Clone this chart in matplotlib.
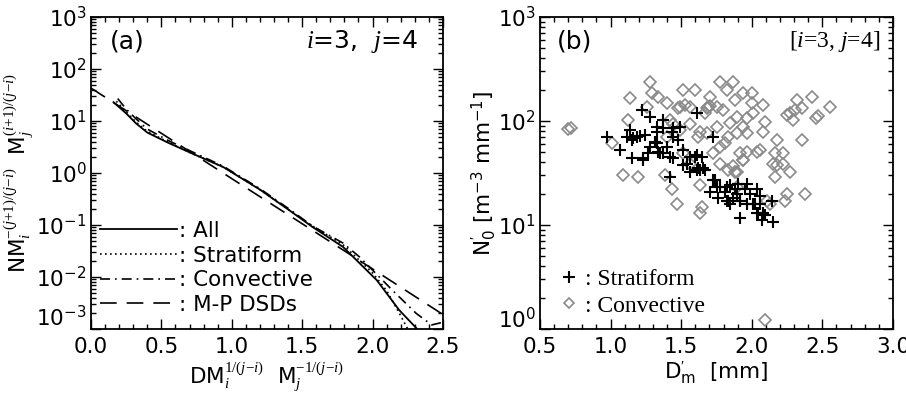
import matplotlib
matplotlib.use("Agg")
import matplotlib.pyplot as plt
import matplotlib.transforms as mtransforms
from matplotlib.lines import Line2D
from matplotlib.ticker import MultipleLocator, LogLocator, NullFormatter

plt.rcParams["font.family"] = ["DejaVu Sans"]
plt.rcParams["mathtext.fontset"] = "custom"
plt.rcParams["mathtext.it"] = "Liberation Serif:italic"
plt.rcParams["mathtext.rm"] = "Liberation Serif"
plt.rcParams["mathtext.sf"] = "DejaVu Sans"
plt.rcParams["axes.unicode_minus"] = False

# ---- panel (a): normalized DSD curves ----
x_all = [0.16, 0.25, 0.32, 0.40, 0.55, 0.70, 0.94, 1.20, 1.40, 1.575, 1.79, 2.03, 2.19, 2.31]
y_all = [23, 14, 9.0, 6.0, 3.8, 2.5, 1.3, 0.48, 0.20, 0.091, 0.038, 0.0087, 0.0023, 0.00105]

x_str = [0.18, 0.25, 0.32, 0.40, 0.55, 0.70, 0.94, 1.20, 1.40, 1.575, 1.79, 2.00, 2.10, 2.20, 2.25]
y_str = [24, 15, 9.5, 6.3, 3.9, 2.5, 1.3, 0.48, 0.20, 0.095, 0.042, 0.012, 0.0055, 0.0018, 0.001]

x_con = [0.19, 0.25, 0.32, 0.40, 0.55, 0.70, 0.94, 1.20, 1.40, 1.575, 1.79, 1.91, 2.14, 2.31, 2.42, 2.50]
y_con = [27, 17, 11, 7.0, 4.2, 2.7, 1.35, 0.50, 0.21, 0.095, 0.045, 0.024, 0.0056, 0.002, 0.0012, 0.00135]

x_mp = [0.0, 0.5, 1.0, 1.5, 2.0, 2.5]
y_mp = [43, 5.8, 0.78, 0.106, 0.0143, 0.0019]

# ---- panel (b): N0' vs Dm' ----
dm_str = [0.975, 1.067, 1.137, 1.116, 1.152, 1.187, 1.244, 1.222, 1.279, 1.371, 1.329, 1.371,
          1.442, 1.491, 1.442, 1.329, 1.399, 1.152, 1.229, 1.265, 1.336, 1.371, 1.421, 1.513,
          1.562, 1.598, 1.647, 1.541, 1.612, 1.633, 1.654, 1.421, 1.612, 1.725, 1.725, 1.754,
          1.824, 1.881, 1.966, 2.037, 1.704, 1.279, 1.159, 1.208, 1.329, 1.435, 1.314, 1.477,
          1.442, 1.229, 1.350, 1.513, 1.562, 1.619, 1.669, 1.612, 1.739, 1.775, 1.761, 1.846,
          1.902, 1.831, 1.867, 1.916, 1.987, 2.058, 1.966, 2.023, 2.058, 2.037, 2.079, 2.093,
          2.150, 1.916, 2.072, 2.143, 1.895, 1.810, 1.824, 1.916, 2.008, 2.044, 1.952, 1.846]
n0_str = [70, 53, 82, 70, 66, 70, 73, 128, 109, 102, 88, 86,
          86, 88, 70, 61, 56, 44, 44, 49, 50, 49, 45, 53,
          45, 45, 45, 39, 34, 34, 35, 29, 119, 70, 27, 23,
          23, 22, 25, 22, 21, 56, 69, 72, 78, 78, 63, 66,
          44, 42, 49, 38, 32, 35, 34, 47, 27, 23, 18, 24,
          25, 17, 18, 17, 20, 19, 16, 16, 16, 13, 13, 12.5,
          10.7, 11.7, 11.2, 17, 20, 21, 17, 17, 16, 13, 22, 16]

dm_con = [0.70, 0.72, 1.279, 1.137, 1.293, 1.336, 1.123, 1.258, 1.010, 1.088, 1.194, 1.435,
          1.385, 1.399, 1.477, 1.513, 1.598, 1.562, 1.421, 1.491, 1.399, 1.513, 1.562, 1.619,
          1.669, 1.683, 1.690, 1.704, 1.754, 1.775, 1.867, 1.704, 1.824, 1.938, 2.001, 1.881,
          2.001, 2.079, 1.796, 1.895, 1.966, 1.846, 1.938, 2.008, 1.754, 1.683, 1.831, 1.895,
          2.079, 1.775, 1.916, 2.037, 1.938, 1.725, 1.775, 1.831, 1.895, 2.178, 2.164, 2.221,
          2.150, 2.221, 2.164, 2.355, 2.249, 2.306, 2.355, 2.320, 2.426, 2.455, 2.470, 2.554,
          2.249, 2.377, 2.271, 1.470, 1.647, 1.633, 2.093, 2.129, 2.235, 1.633, 1.881, 1.895,
          2.108, 2.178, 2.271, 2.292, 2.093, 1.966, 1.442, 1.527, 1.562, 1.633, 1.491, 1.966,
          1.810, 2.058, 1.938, 1.867]
n0_con = [84, 86, 237, 166, 186, 170, 102, 136, 61, 30, 29, 22,
          30, 149, 133, 199, 199, 136, 102, 82, 70, 49, 39, 70,
          119, 132, 136, 140, 136, 237, 237, 170, 199, 186, 186, 159,
          149, 143, 128, 109, 107, 96, 88, 119, 88, 77, 70, 77,
          78, 56, 49, 50, 42, 49, 39, 34, 32, 66, 49, 49,
          39, 39, 29, 66, 114, 128, 133, 159, 170, 106, 112, 136,
          20, 20, 32, 16, 15, 13, 1.22, 16, 17, 24, 32, 23,
          17, 38, 119, 102, 98, 50, 94, 143, 94, 78, 136, 77,
          61, 53, 42, 37]

yticks_a = [1e-3, 1e-2, 1e-1, 1e0, 1e1, 1e2, 1e3]
yticks_b = [1e0, 1e1, 1e2, 1e3]


def style_axes(ax, yticks):
    ax.set_yscale("log")
    ax.set_yticks(yticks)
    ax.yaxis.set_minor_locator(LogLocator(base=10, subs=range(2, 10), numticks=20))
    ax.yaxis.set_minor_formatter(NullFormatter())
    ax.xaxis.set_major_locator(MultipleLocator(0.5))
    ax.xaxis.set_minor_locator(MultipleLocator(0.1))
    ax.xaxis.set_major_formatter(plt.FuncFormatter(lambda v, p: f"{v:.1f}"))
    ax.tick_params(which="both", direction="in", top=True, right=True,
                   labelsize=15.5, width=1.0)
    ax.tick_params(which="major", length=7)
    ax.tick_params(which="minor", length=3.5)
    ax.tick_params(axis="x", pad=6)
    ax.tick_params(axis="y", pad=3)
    for s in ax.spines.values():
        s.set_linewidth(1.3)


def lift_bottom_label(ax, pts):
    # the lowest y label sits a bit above its tick, as in the original
    lab = ax.yaxis.get_major_ticks()[0].label1
    lab.set_transform(lab.get_transform() +
                      mtransforms.ScaledTranslation(0, pts / 72, ax.figure.dpi_scale_trans))


fig = plt.figure(figsize=(9.06, 3.95), dpi=100)
ax1 = fig.add_axes([0.1004, 0.167, 0.3885, 0.790])
ax2 = fig.add_axes([0.596, 0.167, 0.3896, 0.790])

# ---------------- (a) ----------------
ax1.plot(x_all, y_all, color="black", lw=1.3, label=": All")
ax1.plot(x_str, y_str, color="black", lw=1.2, ls=(0, (1, 2)), label=": Stratiform")
ax1.plot(x_con, y_con, color="black", lw=1.2, ls=(0, (6, 3, 1, 3)), label=": Convective")
ax1.plot(x_mp, y_mp, color="black", lw=1.2, ls=(0, (10, 6)), label=": M-P DSDs")
style_axes(ax1, yticks_a)
ax1.set_xlim(0, 2.5)
ax1.set_ylim(1e-3, 1e3)
ax1.set_xlabel(r"DM$_{\mathit{i}}^{\mathit{1/(j{-}i)}}$  M$_{\mathit{j}}^{\mathit{{-}1/(j{-}i)}}$",
               fontsize=15.5, labelpad=2)
ax1.set_ylabel(r"NM$_{\mathit{i}}^{\mathit{{-}(j{+}1)/(j{-}i)}}$  "
               r"M$_{\mathit{j}}^{\mathit{(i{+}1)/(j{-}i)}}$",
               fontsize=15.5, labelpad=1)
ax1.text(0.054, 0.92, "(a)", transform=ax1.transAxes, fontsize=18, va="center", ha="left")
ax1.text(0.93, 0.92, r"$\mathit{i}$=3,  $\mathit{j}$=4", transform=ax1.transAxes,
         fontsize=18, va="center", ha="right")
ax1.legend(loc="lower left", bbox_to_anchor=(0.025, 0.045), frameon=False, fontsize=15.5,
           handlelength=3.6, handletextpad=0.1, labelspacing=0.22, borderaxespad=0,
           borderpad=0)
lift_bottom_label(ax1, 10)

# ---------------- (b) ----------------
ax2.plot(dm_con, n0_con, ls="none", marker="D", ms=6, mfc="none", mec="#8a8a8a", mew=1.2)
ax2.plot(dm_str, n0_str, ls="none", marker="+", ms=9, color="black", mew=1.5)
style_axes(ax2, yticks_b)
ax2.set_xlim(0.5, 3.0)
ax2.set_ylim(1, 1e3)
ax2.set_xlabel(r"D$_{\mathsf{m}}^{\prime}$  [mm]", fontsize=15.5, labelpad=2)
ax2.set_ylabel(r"N$_{\mathsf{0}}^{\prime}$ [m$^{\mathsf{-3}}$ mm$^{\mathsf{-1}}$]",
               fontsize=15.5, labelpad=0)
ax2.text(0.048, 0.92, "(b)", transform=ax2.transAxes, fontsize=18, va="center", ha="left")
ax2.text(0.963, 0.92, r"[$\mathit{i}$=3, $\mathit{j}$=4]", transform=ax2.transAxes,
         fontsize=17, va="center", ha="right", family="Liberation Serif")
handles = [Line2D([], [], ls="none", marker="+", ms=8, color="black", mew=1.5),
           Line2D([], [], ls="none", marker="D", ms=5.5, mfc="none", mec="#8a8a8a", mew=1.2)]
ax2.legend(handles, [": Stratiform", ": Convective"], loc="lower left",
           bbox_to_anchor=(0.055, 0.04), frameon=False,
           prop={"family": "Liberation Serif", "size": 17},
           handlelength=0.8, handletextpad=0.3, labelspacing=0.2,
           borderaxespad=0, borderpad=0)
lift_bottom_label(ax2, 8)

fig.savefig("out.png", dpi=100)
